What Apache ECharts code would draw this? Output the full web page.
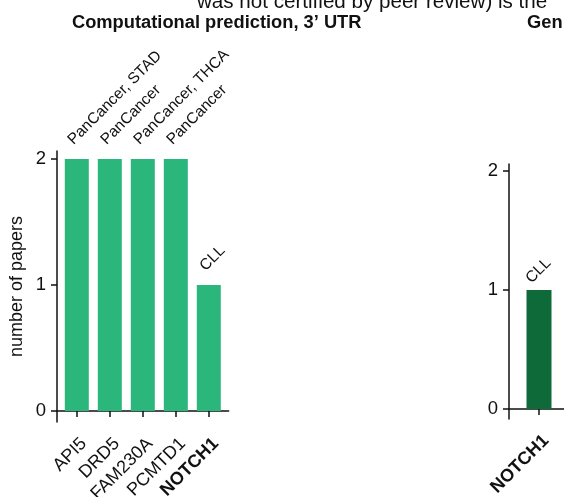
<!DOCTYPE html>
<html>
<head>
<meta charset="utf-8">
<script src="https://cdn.jsdelivr.net/npm/echarts@6/dist/echarts.min.js"></script>
<style>
  html, body { margin: 0; padding: 0; background: #fff; }
  #chart { width: 564px; height: 497px; }
</style>
</head>
<body>
<div id="chart"></div>
<script>
// panel 1: computational prediction, 3' UTR
const genesUtr = ["API5", "DRD5", "FAM230A", "PCMTD1", "NOTCH1"];
const papersUtr = [2, 2, 2, 2, 1];
const cancersUtr = ["PanCancer, STAD", "PanCancer", "PanCancer, THCA", "PanCancer", "CLL"];
// panel 2 (cut off at the right edge)
const genesGen = ["NOTCH1"];
const papersGen = [1];
const cancersGen = ["CLL"];
const boldGenes = ["NOTCH1"];
const yTicks = [0, 1, 2];

const FONT = '"Liberation Sans", Arial, sans-serif';
const lightGreen = "#2bb77b";
const darkGreen = "#0f6a3a";

const ch = echarts.init(document.getElementById("chart"));

const pos = (arr) => arr.map((_, i) => i + 1);

function xAxisFor(genes, gridIndex) {
  return {
    type: "value",
    gridIndex,
    min: 0.4,
    max: genes.length + 0.6,
    splitLine: { show: false },
    axisLine: { lineStyle: { color: "#111", width: 1.5 } },
    axisTick: { customValues: pos(genes), length: 6, lineStyle: { color: "#111", width: 1.5 } },
    axisLabel: {
      customValues: pos(genes),
      rotate: 45,
      margin: 26,
      padding: [0, -10, 0, 0],
      fontSize: 18,
      fontFamily: FONT,
      color: "#111",
      formatter: (v) => {
        const g = genes[Math.round(v) - 1] || "";
        return boldGenes.includes(g) ? `{b|${g}}` : g;
      },
      rich: { b: { fontWeight: "bold", fontSize: 18, fontFamily: FONT, color: "#111" } },
    },
  };
}

function yAxisFor(gridIndex, min, max, name) {
  return {
    type: "value",
    gridIndex,
    min,
    max,
    name,
    nameLocation: "middle",
    nameGap: 31,
    nameTextStyle: { fontSize: 18, fontFamily: FONT, color: "#111" },
    splitLine: { show: false },
    axisLine: { show: true, lineStyle: { color: "#111", width: 1.5 } },
    axisTick: { show: true, customValues: yTicks, length: 6, lineStyle: { color: "#111", width: 1.5 } },
    axisLabel: { customValues: yTicks, margin: 11, fontSize: 18.5, fontFamily: FONT, color: "#111" },
  };
}

function barSeries(values, cancers, idx, color, barWidth, distance, dx) {
  return {
    type: "bar",
    xAxisIndex: idx,
    yAxisIndex: idx,
    barWidth,
    data: values.map((v, i) => [i + 1, v]),
    itemStyle: { color },
    label: {
      show: true,
      position: "top",
      distance,
      offset: [dx, 0],
      rotate: 45,
      align: "left",
      verticalAlign: "middle",
      fontSize: 15.5,
      fontFamily: FONT,
      color: "#111",
      formatter: (p) => cancers[p.dataIndex],
    },
  };
}

ch.setOption({
  animation: false,
  backgroundColor: "#fff",
  grid: [
    { left: 57, top: 151, width: 171.6, height: 271, outerBoundsMode: "none" },
    { left: 509, top: 164, width: 60, height: 255, outerBoundsMode: "none" },
  ],
  xAxis: [xAxisFor(genesUtr, 0), xAxisFor(genesGen, 1)],
  yAxis: [
    yAxisFor(0, -0.087, 2.063, "number of papers"),
    yAxisFor(1, -0.084, 2.059, ""),
  ],
  series: [
    barSeries(papersUtr, cancersUtr, 0, lightGreen, 24, 23, -9),
    barSeries(papersGen, cancersGen, 1, darkGreen, 25, 20, -15),
  ],
  graphic: [
    {
      type: "text",
      x: 197, y: 2.8,
      style: { text: "was not certified by peer review) is the", font: `20.6px ${FONT}`, fill: "#111", verticalAlign: "middle" },
    },
    {
      type: "text",
      x: 72, y: 23.4,
      style: { text: "Computational prediction, 3\u2019 UTR", font: `bold 18.3px ${FONT}`, fill: "#111", verticalAlign: "middle" },
    },
    {
      type: "text",
      x: 527, y: 23.4,
      style: { text: "Gen", font: `bold 18.3px ${FONT}`, fill: "#111", verticalAlign: "middle" },
    },
  ],
});
</script>
</body>
</html>
